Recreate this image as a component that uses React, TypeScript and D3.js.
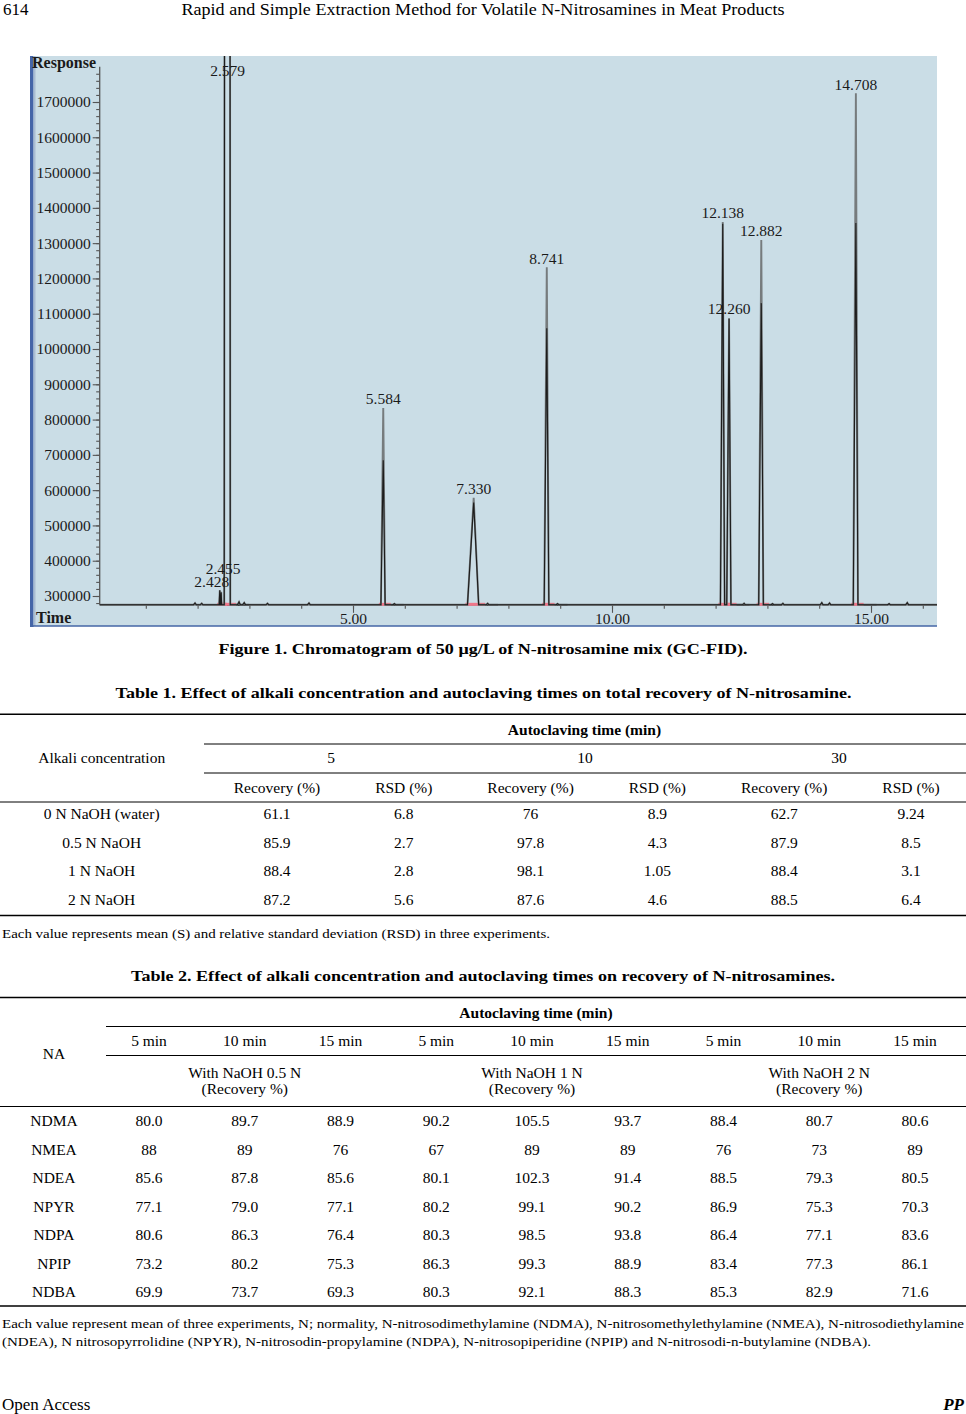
import * as d3 from 'd3';
import { useEffect, useRef } from 'react';

const PAGE_W = 966;
const PAGE_H = 1414;
const SERIF = '"Liberation Serif", "Times New Roman", serif';

// ---- Figure 1: chromatogram ----
const PEAK_TIMES = [2.428, 2.455, 2.579, 5.584, 7.33, 8.741, 12.138, 12.26, 12.882, 14.708];
// grey (upper) trace apex response; 2.579 runs off the top of the plot
const PEAK_TOP_GREY = [316000, 312000, 20000000, 833000, 578000, 1232000, 1360000, 1088000, 1309000, 1725000];
// dark (lower) trace apex response
const PEAK_TOP_DARK = [316000, 310000, 20000000, 685000, 565000, 1059000, 1355000, 1085000, 1130000, 1357000];
const PEAK_HALF_WIDTH = [0.012, 0.012, 0.065, 0.045, 0.12, 0.05, 0.045, 0.045, 0.05, 0.05];

const BLIP_TIMES = [1.95, 2.08, 2.8, 2.9, 3.35, 4.15, 5.8, 7.6, 8.95, 12.55, 13.1, 13.3, 14.05, 14.2, 15.35, 15.7];
const BLIP_TOPS = [280000, 279000, 283000, 281000, 279000, 280000, 278000, 279000, 278000, 279000, 278000, 279000, 281000, 280000, 278000, 281000];

const BASE_RESPONSE = 275000;
const T_START = 0.11;
const T_END = 16.28;
const RESPONSE_TICKS = [300000, 400000, 500000, 600000, 700000, 800000, 900000, 1000000, 1100000, 1200000, 1300000, 1400000, 1500000, 1600000, 1700000];
const TIME_TICKS = [1, 2, 3, 4, 5, 6, 7, 8, 9, 10, 11, 12, 13, 14, 15, 16];
const TIME_LABELS = [5, 10, 15];

// ---- Table 1 ----
const T1_ROWS = ['0 N NaOH (water)', '0.5 N NaOH', '1 N NaOH', '2 N NaOH'];
const T1_TIMES = ['5', '10', '30'];
const T1_SUB = ['Recovery (%)', 'RSD (%)'];
const T1_VALUES = [
    ['61.1', '6.8', '76', '8.9', '62.7', '9.24'],
    ['85.9', '2.7', '97.8', '4.3', '87.9', '8.5'],
    ['88.4', '2.8', '98.1', '1.05', '88.4', '3.1'],
    ['87.2', '5.6', '87.6', '4.6', '88.5', '6.4'],
];

// ---- Table 2 ----
const T2_COMPOUNDS = ['NDMA', 'NMEA', 'NDEA', 'NPYR', 'NDPA', 'NPIP', 'NDBA'];
const T2_TIMES = ['5 min', '10 min', '15 min', '5 min', '10 min', '15 min', '5 min', '10 min', '15 min'];
const T2_GROUPS = ['With NaOH 0.5 N', 'With NaOH 1 N', 'With NaOH 2 N'];
const T2_VALUES = [
    ['80.0', '89.7', '88.9', '90.2', '105.5', '93.7', '88.4', '80.7', '80.6'],
    ['88', '89', '76', '67', '89', '89', '76', '73', '89'],
    ['85.6', '87.8', '85.6', '80.1', '102.3', '91.4', '88.5', '79.3', '80.5'],
    ['77.1', '79.0', '77.1', '80.2', '99.1', '90.2', '86.9', '75.3', '70.3'],
    ['80.6', '86.3', '76.4', '80.3', '98.5', '93.8', '86.4', '77.1', '83.6'],
    ['73.2', '80.2', '75.3', '86.3', '99.3', '88.9', '83.4', '77.3', '86.1'],
    ['69.9', '73.7', '69.3', '80.3', '92.1', '88.3', '85.3', '82.9', '71.6'],
];

const PLOT = { left: 30, right: 937, top: 56, bottom: 626 };

type TxtProps = {
    x: number;
    y: number;
    children: React.ReactNode;
    size?: number;
    weight?: string;
    anchor?: string;
    len?: number;
    italic?: boolean;
};

const Txt = ({ x, y, children, size = 15.5, weight = 'normal', anchor = 'middle', len, italic }: TxtProps) => (
    <text
        x={x}
        y={y}
        dy="0.35em"
        fontSize={size}
        fontWeight={weight}
        fontStyle={italic ? 'italic' : 'normal'}
        textAnchor={anchor}
        textLength={len}
        lengthAdjust={len ? 'spacingAndGlyphs' : undefined}
    >
        {children}
    </text>
);

const Rule = ({ x1, x2, y, w = 1 }: { x1: number; x2: number; y: number; w?: number }) => (
    <line x1={x1} x2={x2} y1={y} y2={y} stroke="#000" strokeWidth={w} />
);

const Chromatogram = () => {
    const gRef = useRef<SVGGElement>(null);

    useEffect(() => {
        if (!gRef.current) return;
        const g = d3.select(gRef.current);
        g.selectAll('*').remove();

        const x = d3.scaleLinear().domain([5, 15]).range([353, 871]);
        const y = d3.scaleLinear().domain([300000, 1700000]).range([596, 102]);
        const baseY = y(BASE_RESPONSE);

        // frame
        g.append('rect')
            .attr('x', PLOT.left)
            .attr('y', PLOT.top)
            .attr('width', PLOT.right - PLOT.left)
            .attr('height', PLOT.bottom - PLOT.top)
            .attr('fill', '#cadde6');
        g.append('rect').attr('x', PLOT.left).attr('y', PLOT.top).attr('width', 3.5).attr('height', PLOT.bottom - PLOT.top + 1).attr('fill', '#4565a8');
        g.append('rect').attr('x', PLOT.left + 3.5).attr('y', PLOT.top).attr('width', 2).attr('height', PLOT.bottom - PLOT.top).attr('fill', '#a9bcd2');
        g.append('line')
            .attr('x1', PLOT.left)
            .attr('x2', PLOT.right)
            .attr('y1', PLOT.bottom)
            .attr('y2', PLOT.bottom)
            .attr('stroke', '#4466a6')
            .attr('stroke-width', 1.5);

        g.append('clipPath')
            .attr('id', 'plot-clip')
            .append('rect')
            .attr('x', PLOT.left)
            .attr('y', PLOT.top)
            .attr('width', PLOT.right - PLOT.left)
            .attr('height', PLOT.bottom - PLOT.top);

        // y axis
        const minorResp = d3.range(280000, 1790000, 20000);
        const yMinor = g.append('g').attr('transform', `translate(${x(T_START)},0)`);
        yMinor.call(d3.axisLeft(y).tickValues(minorResp).tickSize(3.5).tickFormat(() => ''));
        const yMajor = g.append('g').attr('transform', `translate(${x(T_START)},0)`);
        yMajor.call(
            d3
                .axisLeft(y)
                .tickValues(RESPONSE_TICKS)
                .tickSize(7)
                .tickPadding(2)
                .tickFormat((d) => String(d))
        );
        [yMinor, yMajor].forEach((a) => {
            a.select('.domain').remove();
            a.selectAll('line').attr('stroke', '#555').attr('stroke-width', 1.1);
        });
        yMajor.selectAll('text').attr('font-family', SERIF).attr('font-size', 15.5).attr('fill', '#1a1a1a');
        g.append('line')
            .attr('x1', x(T_START))
            .attr('x2', x(T_START))
            .attr('y1', y(1800000))
            .attr('y2', baseY)
            .attr('stroke', '#555')
            .attr('stroke-width', 1.3);

        // x axis
        const xMinor = g.append('g').attr('transform', `translate(0,${baseY})`);
        xMinor.call(d3.axisBottom(x).tickValues(TIME_TICKS).tickSize(4).tickFormat(() => ''));
        const xMajor = g.append('g').attr('transform', `translate(0,${baseY})`);
        xMajor.call(d3.axisBottom(x).tickValues(TIME_LABELS).tickSize(8).tickPadding(0).tickFormat(d3.format('.2f')));
        [xMinor, xMajor].forEach((a) => {
            a.select('.domain').remove();
            a.selectAll('line').attr('stroke', '#555').attr('stroke-width', 1.1);
        });
        xMajor.selectAll('text').attr('font-family', SERIF).attr('font-size', 15.5).attr('fill', '#1a1a1a');

        g.append('line')
            .attr('x1', x(T_START))
            .attr('x2', PLOT.right)
            .attr('y1', baseY)
            .attr('y2', baseY)
            .attr('stroke', '#666')
            .attr('stroke-width', 1.3);

        // axis titles
        g.append('text')
            .attr('x', PLOT.left + 2)
            .attr('y', 68)
            .attr('font-family', SERIF)
            .attr('font-weight', 'bold')
            .attr('font-size', 16)
            .attr('fill', '#1a1a1a')
            .text('Response');
        g.append('text')
            .attr('x', PLOT.left + 6)
            .attr('y', 623)
            .attr('font-family', SERIF)
            .attr('font-weight', 'bold')
            .attr('font-size', 16)
            .attr('fill', '#1a1a1a')
            .text('Time');

        // integration marks and tailing under peaks
        const marks = g.append('g');
        PEAK_TIMES.forEach((t, i) => {
            const hw = PEAK_HALF_WIDTH[i];
            marks
                .append('line')
                .attr('x1', x(t + hw))
                .attr('x2', x(t + hw + 0.35))
                .attr('y1', baseY)
                .attr('y2', baseY)
                .attr('stroke', '#2a2a2a')
                .attr('stroke-width', 1.8);
            marks
                .append('line')
                .attr('x1', x(t - hw - 0.04))
                .attr('x2', x(t + hw + 0.1))
                .attr('y1', baseY - 0.5)
                .attr('y2', baseY - 0.5)
                .attr('stroke', '#f07689')
                .attr('stroke-width', 3);
        });

        // traces
        const buildTrace = (tops: number[]) => {
            const events = [
                ...PEAK_TIMES.map((t, i) => ({ t, top: tops[i], hw: PEAK_HALF_WIDTH[i] })),
                ...BLIP_TIMES.map((t, i) => ({ t, top: BLIP_TOPS[i], hw: 0.03 })),
            ].sort((a, b) => a.t - b.t);
            const pts: [number, number][] = [[T_START, BASE_RESPONSE]];
            events.forEach((e) => {
                pts.push([e.t - e.hw, BASE_RESPONSE], [e.t, e.top], [e.t + e.hw * 0.8, BASE_RESPONSE]);
            });
            pts.push([T_END, BASE_RESPONSE]);
            return pts;
        };
        const line = d3
            .line<[number, number]>()
            .x((d) => x(d[0]))
            .y((d) => y(d[1]));
        const traces = g.append('g').attr('clip-path', 'url(#plot-clip)');
        traces
            .append('path')
            .attr('d', line(buildTrace(PEAK_TOP_GREY)))
            .attr('fill', 'none')
            .attr('stroke', '#767b7d')
            .attr('stroke-width', 1.9);
        traces
            .append('path')
            .attr('d', line(buildTrace(PEAK_TOP_DARK)))
            .attr('fill', 'none')
            .attr('stroke', '#1c1c1c')
            .attr('stroke-width', 1.1);

        // peak labels; crowded neighbours are stacked and pulled apart a little
        const labels = PEAK_TIMES.map((t, i) => ({
            text: d3.format('.3f')(t),
            x: x(t),
            y: Math.max(y(PEAK_TOP_GREY[i]) - 3.5, PLOT.top + 20),
        }));
        labels.forEach((l, i) => {
            const prev = labels[i - 1];
            if (prev && Math.abs(prev.x - l.x) < 30 && Math.abs(prev.y - l.y) < 12) {
                l.y = prev.y - 13;
                prev.x -= 8;
                l.x += 2;
            }
        });
        g.append('g')
            .selectAll('text')
            .data(labels)
            .join('text')
            .attr('x', (d) => d.x)
            .attr('y', (d) => d.y)
            .attr('text-anchor', 'middle')
            .attr('font-family', SERIF)
            .attr('font-size', 15.5)
            .attr('fill', '#1a1a1a')
            .text((d) => d.text);
    }, []);

    return <g ref={gRef} />;
};

const App = () => {
    const t1Sub = d3.scalePoint<number>().domain(d3.range(6)).range([277, 911]);
    const t1Group = d3.scaleBand<string>().domain(T1_TIMES).range([204, 966]);
    const t1RowY = d3.scalePoint<string>().domain(T1_ROWS).range([814, 899.5]);

    const t2Col = d3.scalePoint<number>().domain(d3.range(9)).range([149, 915]);
    const t2RowY = d3.scalePoint<string>().domain(T2_COMPOUNDS).range([1121, 1291.7]);

    return (
        <svg
            width={PAGE_W}
            height={PAGE_H}
            style={{ position: 'absolute', left: 0, top: 0, background: '#fff' }}
            fontFamily={SERIF}
        >
            {/* page header */}
            <Txt x={3} y={9} size={17} anchor="start">
                614
            </Txt>
            <Txt x={483} y={9} size={17} len={603}>
                Rapid and Simple Extraction Method for Volatile N-Nitrosamines in Meat Products
            </Txt>

            <Chromatogram />

            <Txt x={483} y={649} size={15} weight="bold" len={529}>
                Figure 1. Chromatogram of 50 μg/L of N-nitrosamine mix (GC-FID).
            </Txt>

            {/* Table 1 */}
            <Txt x={483.5} y={692.7} size={15} weight="bold" len={736}>
                Table 1. Effect of alkali concentration and autoclaving times on total recovery of N-nitrosamine.
            </Txt>
            <Rule x1={0} x2={966} y={714.3} w={1.5} />
            <Txt x={584.5} y={730} weight="bold">
                Autoclaving time (min)
            </Txt>
            <Rule x1={204} x2={966} y={744} />
            <Txt x={101.7} y={758}>
                Alkali concentration
            </Txt>
            {T1_TIMES.map((t) => (
                <Txt key={t} x={t1Group(t)! + t1Group.bandwidth() / 2} y={758}>
                    {t}
                </Txt>
            ))}
            <Rule x1={204} x2={966} y={773} />
            {d3.range(6).map((i) => (
                <Txt key={i} x={t1Sub(i)!} y={788}>
                    {T1_SUB[i % 2]}
                </Txt>
            ))}
            <Rule x1={0} x2={966} y={802} />
            {T1_ROWS.map((r, ri) => (
                <g key={r}>
                    <Txt x={101.7} y={t1RowY(r)!}>
                        {r}
                    </Txt>
                    {T1_VALUES[ri].map((v, ci) => (
                        <Txt key={ci} x={t1Sub(ci)!} y={t1RowY(r)!}>
                            {v}
                        </Txt>
                    ))}
                </g>
            ))}
            <Rule x1={0} x2={966} y={915.5} w={1.5} />
            <Txt x={2} y={933} size={13.5} anchor="start" len={548}>
                Each value represents mean (S) and relative standard deviation (RSD) in three experiments.
            </Txt>

            {/* Table 2 */}
            <Txt x={483} y={976} size={15} weight="bold" len={704}>
                Table 2. Effect of alkali concentration and autoclaving times on recovery of N-nitrosamines.
            </Txt>
            <Rule x1={0} x2={966} y={997.5} w={1.5} />
            <Txt x={536} y={1013} weight="bold">
                Autoclaving time (min)
            </Txt>
            <Rule x1={106} x2={966} y={1026.5} />
            <Txt x={54} y={1054}>
                NA
            </Txt>
            {T2_TIMES.map((t, i) => (
                <Txt key={i} x={t2Col(i)!} y={1041}>
                    {t}
                </Txt>
            ))}
            <Rule x1={106} x2={966} y={1055.5} />
            {T2_GROUPS.map((gName, gi) => (
                <g key={gName}>
                    <Txt x={t2Col(gi * 3 + 1)!} y={1072.5}>
                        {gName}
                    </Txt>
                    <Txt x={t2Col(gi * 3 + 1)!} y={1089}>
                        (Recovery %)
                    </Txt>
                </g>
            ))}
            <Rule x1={0} x2={966} y={1106.5} />
            {T2_COMPOUNDS.map((c, ri) => (
                <g key={c}>
                    <Txt x={54} y={t2RowY(c)!}>
                        {c}
                    </Txt>
                    {T2_VALUES[ri].map((v, ci) => (
                        <Txt key={ci} x={t2Col(ci)!} y={t2RowY(c)!}>
                            {v}
                        </Txt>
                    ))}
                </g>
            ))}
            <Rule x1={0} x2={966} y={1306} w={1.5} />
            <Txt x={2} y={1323} size={13.5} anchor="start" len={962}>
                Each value represent mean of three experiments, N; normality, N-nitrosodimethylamine (NDMA), N-nitrosomethylethylamine (NMEA), N-nitrosodiethylamine
            </Txt>
            <Txt x={2} y={1341.5} size={13.5} anchor="start" len={869}>
                (NDEA), N nitrosopyrrolidine (NPYR), N-nitrosodin-propylamine (NDPA), N-nitrosopiperidine (NPIP) and N-nitrosodi-n-butylamine (NDBA).
            </Txt>

            {/* footer */}
            <Txt x={2} y={1404} size={17} anchor="start">
                Open Access
            </Txt>
            <Txt x={964} y={1404} size={17} anchor="end" weight="bold" italic>
                PP
            </Txt>
        </svg>
    );
};

export default App;
